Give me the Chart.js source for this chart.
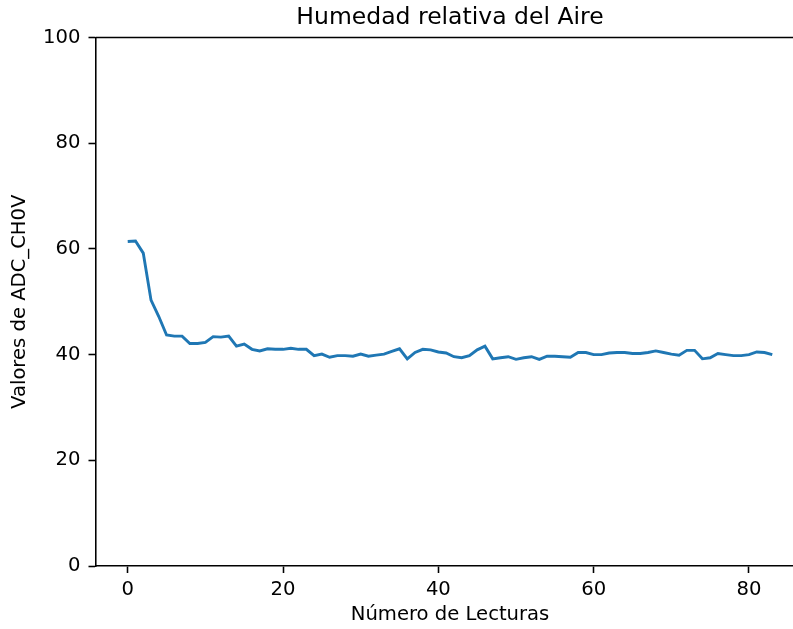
<!DOCTYPE html>
<html>
<head>
<meta charset="utf-8">
<script src="https://cdn.jsdelivr.net/npm/chart.js@4/dist/chart.umd.min.js"></script>
<style>
  html, body { margin: 0; padding: 0; background: #fff; overflow: hidden; width: 793px; height: 629px; }
  canvas { display: block; position: absolute; left: 0; top: 0; }
</style>
</head>
<body>
<canvas id="chart" width="815" height="629"></canvas>
<script>
// Readings of relative humidity (ADC_CH0V), one per reading index.
const humedad = [
  61.4, 61.5, 59.2, 50.3, 47.2, 43.7, 43.5, 43.5, 42.1, 42.1,
  42.3, 43.4, 43.3, 43.5, 41.6, 42.0, 41.0, 40.7, 41.1, 41.0,
  41.0, 41.2, 41.0, 41.0, 39.8, 40.1, 39.5, 39.8, 39.8, 39.7,
  40.1, 39.7, 39.9, 40.1, 40.6, 41.1, 39.2, 40.4, 41.0, 40.9,
  40.5, 40.3, 39.6, 39.4, 39.8, 40.9, 41.6, 39.2, 39.4, 39.6,
  39.1, 39.4, 39.6, 39.1, 39.7, 39.7, 39.6, 39.5, 40.4, 40.4,
  40.0, 40.0, 40.3, 40.4, 40.4, 40.2, 40.2, 40.4, 40.7, 40.4,
  40.1, 39.9, 40.8, 40.8, 39.2, 39.4, 40.2, 40.0, 39.8, 39.8,
  40.0, 40.5, 40.4, 40.0
];
const xTicks = [0, 20, 40, 60, 80];
const yTicks = [0, 20, 40, 60, 80, 100];

const FONT = "'DejaVu Sans', sans-serif";

// matplotlib-like frame: add the top spine (right one falls outside the crop).
const topSpine = {
  id: 'topSpine',
  afterDraw(chart) {
    const { ctx, chartArea } = chart;
    ctx.save();
    ctx.strokeStyle = '#000';
    ctx.lineWidth = 1.57;
    ctx.beginPath();
    ctx.moveTo(chartArea.left, chartArea.top);
    ctx.lineTo(chartArea.right, chartArea.top);
    ctx.stroke();
    ctx.restore();
  }
};

new Chart(document.getElementById('chart'), {
  type: 'line',
  data: {
    datasets: [{
      data: humedad.map((v, i) => ({ x: i, y: v })),
      borderColor: '#1f77b4',
      borderWidth: 2.9,
      pointRadius: 0,
      tension: 0,
      fill: false
    }]
  },
  options: {
    responsive: false,
    animation: false,
    layout: { padding: { left: 0, right: 10.5, top: 0, bottom: 0 } },
    plugins: {
      legend: { display: false },
      tooltip: { enabled: false },
      title: {
        display: true,
        fullSize: false,
        text: 'Humedad relativa del Aire',
        color: '#000',
        font: { family: FONT, size: 23.5, weight: 'normal', lineHeight: 1.2 },
        padding: { top: 4, bottom: 5.3 }
      }
    },
    scales: {
      x: {
        type: 'linear',
        min: -4.15,
        max: 87.15,
        afterBuildTicks: s => { s.ticks = xTicks.map(v => ({ value: v })); },
        afterFit: s => { s.height = 63; },
        grid: { display: true, drawOnChartArea: false, tickLength: 7, tickWidth: 1.57, tickColor: '#000' },
        border: { display: true, color: '#000', width: 1.57 },
        ticks: { color: '#000', font: { family: FONT, size: 19.6 }, padding: 5, maxRotation: 0 },
        title: {
          display: true,
          text: 'Número de Lecturas',
          color: '#000',
          font: { family: FONT, size: 19.6, lineHeight: 1.2 },
          padding: { top: 0, bottom: 2 }
        }
      },
      y: {
        type: 'linear',
        min: 0,
        max: 100,
        afterBuildTicks: s => { s.ticks = yTicks.map(v => ({ value: v })); },
        afterFit: s => { s.width = 95.5; },
        grid: { display: true, drawOnChartArea: false, tickLength: 7, tickWidth: 1.57, tickColor: '#000' },
        border: { display: true, color: '#000', width: 1.57 },
        ticks: { color: '#000', font: { family: FONT, size: 19.6 }, padding: 8 },
        title: {
          display: true,
          text: 'Valores de ADC_CH0V',
          color: '#000',
          font: { family: FONT, size: 19.6, lineHeight: 1.2 },
          padding: { top: 8.5, bottom: 0 }
        }
      }
    }
  },
  plugins: [topSpine]
});
</script>
</body>
</html>
